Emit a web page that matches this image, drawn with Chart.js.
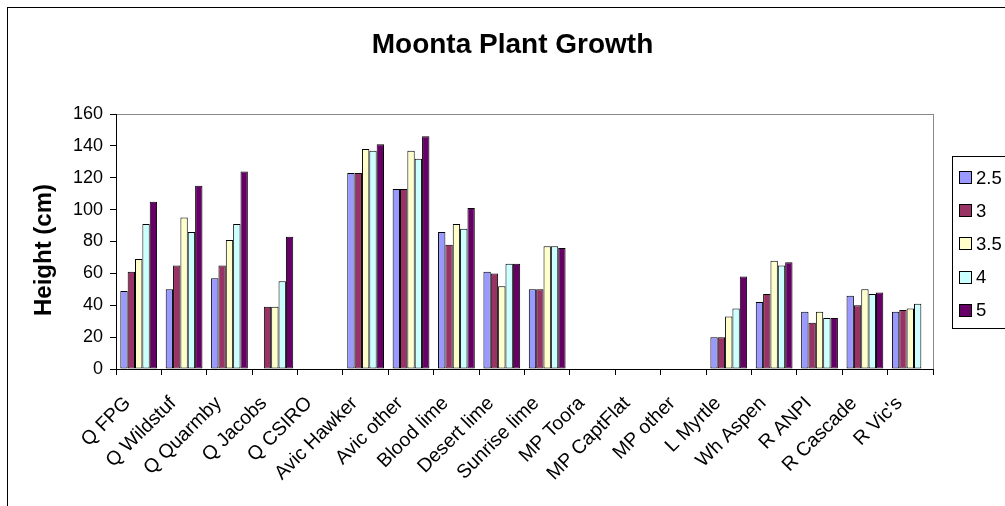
<!DOCTYPE html>
<html>
<head>
<meta charset="utf-8">
<title>Moonta Plant Growth</title>
<script src="https://cdn.jsdelivr.net/npm/chart.js@4"></script>
<style>
  body { margin: 0; background: #fff; }
  #wrap { width: 1005px; height: 506px; }
</style>
</head>
<body>
<div id="wrap"><canvas id="growthChart" width="1005" height="506"></canvas></div>
<script>
// Datos
const plants = ['Q FPG', 'Q Wildstuf', 'Q Quarmby', 'Q Jacobs', 'Q CSIRO', 'Avic Hawker', 'Avic other',
  'Blood lime', 'Desert lime', 'Sunrise lime', 'MP Toora', 'MP CaptFlat', 'MP other', 'L Myrtle',
  'Wh Aspen', 'R ANPI', 'R Cascade', "R Vic's"];
const seriesNames = ['2.5', '3', '3.5', '4', '5'];
const h25 = [49, 50, 57, null, null, 123, 113, 86, 61, 50, null, null, null, 20, 42, 36, 46, 36];
const h3 = [61, 65, 65, 39, null, 123, 113, 78, 60, 50, null, null, null, 20, 47, 29, 40, 37];
const h35 = [69, 95, 81, 39, null, 138, 137, 91, 52, 77, null, null, null, 33, 68, 36, 50, 38];
const h4 = [91, 86, 91, 55, null, 137, 132, 88, 66, 77, null, null, null, 38, 65, 32, 47, 41];
const h5 = [105, 115, 124, 83, null, 141, 146, 101, 66, 76, null, null, null, 58, 67, 32, 48, null];
const yTicks = [0, 20, 40, 60, 80, 100, 120, 140, 160];

const colors = ['#9999FF', '#993366', '#FFFFCC', '#CCFFFF', '#660066'];
const FONT = '"Liberation Sans", Arial, sans-serif';

document.addEventListener('DOMContentLoaded', function() {
  Chart.defaults.font.family = FONT;
  Chart.defaults.color = '#000';

  const values = [h25, h3, h35, h4, h5];
  const datasets = values.map((v, i) => ({
    label: seriesNames[i],
    data: v,
    backgroundColor: colors[i],
    borderColor: '#000',
    borderWidth: 1,
    borderSkipped: false,
    categoryPercentage: 0.81,
    barPercentage: 1.0
  }));

  // marco exterior, borde gris del area del grafico, titulos y leyenda
  const decorations = {
    id: 'decorations',
    beforeDraw(chart) {
      const c = chart.ctx;
      const a = chart.chartArea;
      c.save();
      c.fillStyle = '#fff';
      c.fillRect(0, 0, chart.width, chart.height);
      c.strokeStyle = '#000';
      c.lineWidth = 1;
      c.strokeRect(7.5, 7.5, 1100, 600);
      c.strokeStyle = '#888';
      c.strokeRect(a.left + 0.5, a.top + 0.5, a.right - a.left, a.bottom - a.top);
      c.restore();
    },
    afterDraw(chart) {
      const c = chart.ctx;
      c.save();
      c.fillStyle = '#000';
      c.font = 'bold 28px ' + FONT;
      c.textAlign = 'center';
      c.textBaseline = 'alphabetic';
      c.fillText('Moonta Plant Growth', 512.5, 53);

      // titulo del eje Y
      c.save();
      c.translate(44.5, 250);
      c.rotate(-Math.PI / 2);
      c.font = 'bold 24px ' + FONT;
      c.textBaseline = 'middle';
      c.fillText('Height (cm)', 0, 0);
      c.restore();

      // leyenda
      c.strokeStyle = '#000';
      c.lineWidth = 1;
      c.strokeRect(952.5, 156.5, 100, 172);
      c.font = '18.5px ' + FONT;
      c.textAlign = 'left';
      c.textBaseline = 'middle';
      chart.data.datasets.forEach((ds, i) => {
        const yc = 177.5 + i * 33.2;
        c.fillStyle = ds.backgroundColor;
        c.fillRect(959.5, Math.round(yc - 6.5) + 0.5, 12, 12);
        c.strokeRect(959.5, Math.round(yc - 6.5) + 0.5, 12, 12);
        c.fillStyle = '#000';
        c.fillText(ds.label, 976, yc + 1);
      });
      c.restore();
    }
  };

  new Chart(document.getElementById('growthChart'), {
    type: 'bar',
    data: { labels: plants, datasets: datasets },
    options: {
      responsive: false,
      animation: false,
      layout: { padding: { top: 114, right: 72, left: 0, bottom: 0 } },
      plugins: {
        legend: { display: false },
        title: { display: false },
        tooltip: { enabled: false }
      },
      scales: {
        x: {
          afterFit: function(scale) { scale.height = 137; },
          grid: { offset: true, drawOnChartArea: false, tickLength: 6, color: '#000' },
          border: { color: '#000', width: 1 },
          ticks: {
            autoSkip: false,
            maxRotation: 45,
            minRotation: 45,
            padding: 17,
            labelOffset: -11,
            color: '#000',
            font: { size: 19.5 }
          }
        },
        y: {
          min: yTicks[0],
          max: yTicks[yTicks.length - 1],
          afterFit: function(scale) { scale.width = 116; },
          afterBuildTicks: function(scale) { scale.ticks = yTicks.map(v => ({ value: v })); },
          grid: { drawOnChartArea: false, tickLength: 6, color: '#000' },
          border: { color: '#000', width: 1 },
          ticks: { padding: 7, color: '#000', font: { size: 18 } }
        }
      }
    },
    plugins: [decorations]
  });
});
</script>
</body>
</html>
